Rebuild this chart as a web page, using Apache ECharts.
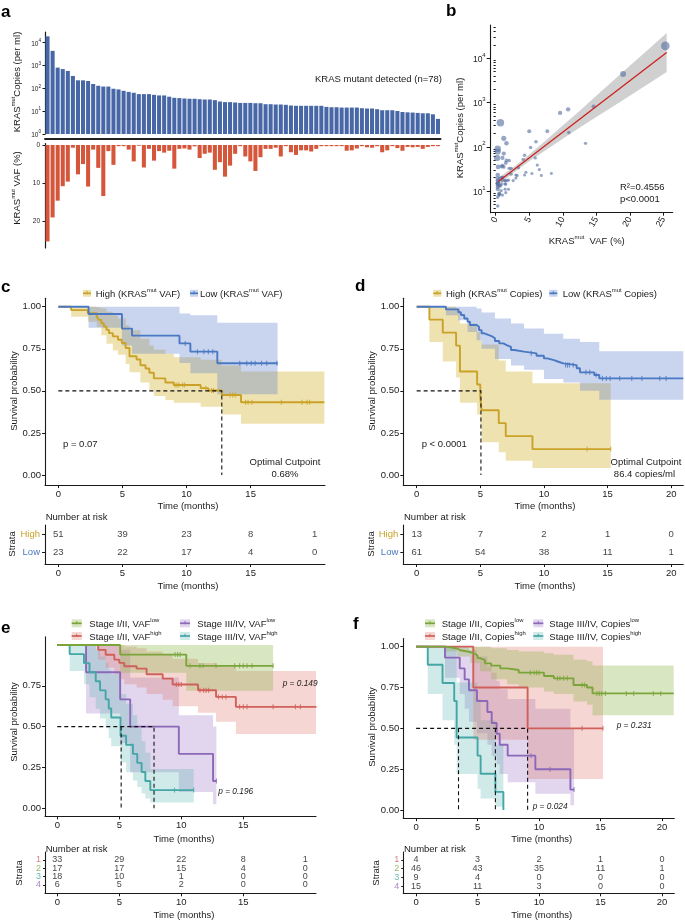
<!DOCTYPE html>
<html><head><meta charset="utf-8"><title>KRAS ctDNA figure</title>
<script src="https://cdn.jsdelivr.net/npm/echarts@6.0.0/dist/echarts.min.js"></script>
<style>html,body{margin:0;padding:0;background:#fff;}#chart{width:685px;height:922px;}</style>
</head><body><div id="chart"></div>
<script>
// ================= DATA =================
// Panel a / b : 78 patients, sorted by KRAS mutant copies
const patientRank = ['1','2','3','4','5','6','7','8','9','10','11','12','13','14','15','16','17','18','19','20','21','22','23','24','25','26','27','28','29','30','31','32','33','34','35','36','37','38','39','40','41','42','43','44','45','46','47','48','49','50','51','52','53','54','55','56','57','58','59','60','61','62','63','64','65','66','67','68','69','70','71','72','73','74','75','76','77','78'];
const copiesPerMl = [19000,4400,810,700,580,350,225,225,210,155,130,120,120,96,90,78,70,64,56,56,56,52,49,49,43,38.5,37.5,36,35,35,33.5,32.5,32.5,30.5,26.5,25,25,24,23,23,23,22.3,22.3,20.2,20.2,19.6,19.6,19,17.7,17.2,17.2,17.2,17.2,17.2,17.2,15.4,14.9,14.9,14.4,14.4,14.4,14.4,13.5,13.1,13.1,12.2,11,11,11,10.2,9.2,8.9,8.7,8.4,8.1,8.1,7.3,4.6];
const vafPercent = [25.3,19.0,14.6,10.8,9.6,0.7,7.7,5.0,10.9,1.2,6.0,13.4,1.6,5.2,0.3,0.3,1.2,4.3,0.2,5.9,1.0,4.1,1.6,2.0,1.5,6.2,1.0,0.9,1.2,0.35,3.4,2.3,2.0,6.5,4.5,8.3,5.4,2.3,0.3,3.0,4.3,6.8,3.2,1.0,1.0,0.7,3.0,0.3,1.9,2.6,1.4,1.4,1.7,1.0,0.3,0.3,0.3,0.3,0.3,1.5,1.4,0.9,0.3,0.6,0.7,0.3,1.9,1.4,0.3,0.8,1.5,0.5,0.6,0.5,1.0,0.5,0.3,0.3];
const copyTicks = [1,10,100,1000,10000];
const vafTicksA = [0,10,20];
const vafTicksB = [0,5,10,15,20,25];
const scatterCopyTicks = [10,100,1000,10000];
// regression fit
const fitVaf = [0.4,25.5];
const fitCopies = [16.5,13400];
const fitBandVaf = [0.4,1,2,3.3,5,7.5,10,12.5,15,17.5,20,22.5,25.5];
const fitBandLow = [13.5,16.3,21.6,30.8,47.3,85,151,269,468,813,1413,2483,4875];
const fitBandHigh = [20.0,23.0,29.5,41.5,66.8,141,302,646,1413,3090,6761,14622,36983];

// KM common
const survTicks = [0,0.25,0.5,0.75,1];
const survTicksE = [0,0.25,0.5,0.75];
const timeTicks15 = [0,5,10,15];
const timeTicks20 = [0,5,10,15,20];
const riskTimes = [0,5,10,15,20];
const strataNames = ['1','2','3','4'];

// Panel c (VAF)
const cHighTime = [0,1.0,2.3,3.0,3.15,3.35,3.55,3.75,3.95,4.25,4.65,4.95,5.25,5.55,6.1,6.4,6.8,7.1,7.45,8.35,9.0,11.1,11.7,12.75,14.25,20.75];
const cHighSurv = [1,0.980,0.961,0.941,0.922,0.902,0.882,0.863,0.843,0.824,0.804,0.784,0.755,0.706,0.686,0.652,0.633,0.608,0.574,0.55,0.535,0.516,0.502,0.475,0.432,0.432];
const cHighCensor = [9.1,9.25,9.4,9.7,9.85,11.5,11.95,12.1,13.4,13.6,13.8,14.6,14.8,15.1,17.4,19.0,19.4,19.6];
const cHighBandTime = [0,1.0,2.3,3.0,3.35,3.75,4.25,4.65,5.25,5.55,6.4,7.1,7.45,8.35,9.0,11.1,12.75,14.25,20.75];
const cHighBandUp = [1,1,1,0.995,0.99,0.97,0.95,0.93,0.89,0.86,0.81,0.77,0.745,0.72,0.70,0.685,0.65,0.615,0.615];
const cHighBandLo = [1,0.94,0.91,0.88,0.83,0.78,0.74,0.715,0.66,0.61,0.55,0.505,0.47,0.445,0.43,0.405,0.36,0.305,0.305];
const cLowTime = [0,2.36,4.96,5.75,9.45,10.3,12.4,17.1];
const cLowSurv = [1,0.957,0.870,0.828,0.782,0.733,0.664,0.664];
const cLowCensor = [9.9,10.85,11.35,11.7,12.05,14.15,14.7,15.05,15.35,15.85,16.25,17.05];
const cLowBandTime = [0,2.36,4.96,5.75,9.45,10.3,12.4,17.1];
const cLowBandUp = [1,1,1,1,0.96,0.95,0.905,0.905];
const cLowBandLo = [1,0.875,0.77,0.72,0.665,0.605,0.48,0.48];
const cMedian = [12.75];
const cRiskHigh = [51,39,23,8,1];
const cRiskLow = [23,22,17,4,0];

// Panel d (Copies)
const dHighTime = [0,1.0,2.05,3.1,3.4,4.75,5.0,5.1,6.45,7.0,9.1,15.25];
const dHighSurv = [1,0.923,0.846,0.769,0.615,0.538,0.462,0.385,0.308,0.231,0.154,0.154];
const dHighCensor = [13.4,15.25];
const dHighBandUp = [1,1,1,0.99,0.9,0.85,0.8,0.775,0.68,0.615,0.545,0.545];
const dHighBandLo = [1,0.79,0.675,0.58,0.43,0.36,0.29,0.195,0.135,0.085,0.042,0.042];
const dLowTime = [0,2.3,3.27,3.48,3.74,4.0,4.19,4.71,4.9,5.1,5.31,5.63,5.97,6.15,6.49,6.81,7.07,7.41,7.67,8.43,9.42,10.0,10.26,10.79,11.13,11.52,12.57,12.83,13.95,14.35,20.95];
const dLowSurv = [1,0.984,0.967,0.951,0.93,0.911,0.891,0.881,0.861,0.842,0.832,0.822,0.812,0.796,0.782,0.772,0.762,0.743,0.733,0.723,0.709,0.693,0.683,0.673,0.663,0.653,0.634,0.61,0.594,0.574,0.574];
const dLowCensor = [9.0,11.7,11.85,12.0,12.3,13.3,13.6,14.1,14.6,14.9,15.2,15.95,16.9,17.7,19.1,19.6];
const dLowBandTime = [0,2.3,3.27,4.0,4.71,5.1,6.15,7.41,8.43,10.0,11.52,12.83,14.35,20.95];
const dLowBandUp = [1,1,1,1,0.99,0.965,0.93,0.9,0.87,0.84,0.81,0.79,0.735,0.735];
const dLowBandLo = [1,0.95,0.92,0.85,0.80,0.75,0.69,0.65,0.625,0.57,0.55,0.5,0.447,0.447];
const dMedian = [5.05];
const dRiskHigh = [13,7,2,1,0];
const dRiskLow = [61,54,38,11,1];

// Panel e (stage x VAF)
const eGreenTime = [0,5.07,10.4,17.4];
const eGreenSurv = [1,0.941,0.872,0.872];
const eGreenCensor = [9.5,9.7,9.9,10.7,11.5,11.75,12.8,14.3,14.7,15.0,15.3,15.7,17.4];
const eGreenBandUp = [1,1,1,1];
const eGreenBandLo = [1,0.83,0.72,0.72];
const eRedTime = [0,3.3,3.9,4.6,5.0,5.4,6.4,7.2,8.5,9.3,11.35,12.8,14.4,20.9];
const eRedSurv = [1,0.97,0.94,0.91,0.89,0.87,0.855,0.821,0.794,0.758,0.723,0.682,0.621,0.621];
const eRedCensor = [9.6,9.8,10.0,11.5,11.8,12.0,12.2,13.0,13.3,13.6,14.7,15.0,15.3,17.4,19.2,19.6];
const eRedBandUp = [1,1,1,1,1,0.99,0.98,0.96,0.94,0.915,0.89,0.87,0.84,0.84];
const eRedBandLo = [1,0.91,0.86,0.82,0.79,0.76,0.74,0.70,0.665,0.625,0.585,0.53,0.455,0.455];
const eTealTime = [0,1.0,2.15,2.6,3.1,3.45,3.9,4.15,4.35,5.1,5.55,6.1,6.45,6.8,7.1,7.5,11.0];
const eTealSurv = [1,0.944,0.889,0.833,0.778,0.722,0.667,0.611,0.556,0.444,0.389,0.333,0.278,0.222,0.167,0.111,0.111];
const eTealCensor = [9.45,11.0];
const eTealBandUp = [1,1,1,0.995,0.97,0.93,0.89,0.85,0.82,0.70,0.64,0.57,0.49,0.41,0.34,0.24,0.24];
const eTealBandLo = [1,0.84,0.76,0.68,0.61,0.55,0.49,0.43,0.38,0.28,0.22,0.17,0.13,0.09,0.06,0.035,0.035];
const ePurpleTime = [0,2.32,5.07,5.88,9.8,12.56,12.83];
const ePurpleSurv = [1,0.833,0.667,0.5,0.333,0.167,0.167];
const ePurpleCensor = [12.83];
const ePurpleBandUp = [1,1,0.97,0.8,0.57,0.5,0.5];
const ePurpleBandLo = [1,0.58,0.4,0.22,0.1,0.025,0.025];
const eMedians = [5.15,7.8];
const eRisk = [[33,29,22,8,1],[17,17,15,4,0],[18,10,1,0,0],[6,5,2,0,0]];

// Panel f (stage x Copies)
const fGreenTime = [0,2.4,3.35,3.6,4.4,4.8,5.0,5.2,5.6,6.1,6.85,7.4,8.35,10.4,11.2,12.8,13.9,14.35,20.95];
const fGreenSurv = [1,0.989,0.978,0.967,0.956,0.945,0.93,0.918,0.898,0.884,0.867,0.857,0.841,0.82,0.806,0.765,0.75,0.714,0.714];
const fGreenCensor = [9.3,9.6,9.8,10.0,11.5,11.7,12.0,12.3,13.5,13.7,14.7,14.9,15.1,15.4,17.1,17.7,19.3,19.9];
const fGreenBandTime = [0,2.4,3.35,4.4,5.2,6.1,7.4,8.35,10.4,11.2,12.8,13.9,14.35,20.95];
const fGreenBandUp = [1,1,1,1,1,0.99,0.98,0.97,0.96,0.95,0.92,0.91,0.884,0.884];
const fGreenBandLo = [1,0.97,0.94,0.9,0.85,0.8,0.77,0.75,0.725,0.71,0.665,0.645,0.58,0.58];
const fRedTime = [0,4.65,9.07,15.2];
const fRedSurv = [1,0.75,0.5,0.5];
const fRedCensor = [13.5,15.2];
const fRedBandUp = [1,1,1,1];
const fRedBandLo = [1,0.43,0.19,0.19];
const fTealTime = [0,0.95,2.15,3.1,3.3,5.0,5.25,6.45,7.1];
const fTealSurv = [1,0.889,0.778,0.667,0.444,0.333,0.222,0.111,0];
const fTealCensor = [];
const fTealBandUp = [1,1,1,1,0.78,0.68,0.55,0.4,0.4];
const fTealBandLo = [1,0.71,0.55,0.4,0.22,0.13,0.07,0.02,0.02];
const fPurpleTime = [0,2.35,3.55,3.95,4.3,4.95,5.8,6.15,6.55,6.8,7.45,9.7,12.55,12.85];
const fPurpleSurv = [1,0.933,0.867,0.8,0.733,0.667,0.6,0.533,0.467,0.4,0.333,0.25,0.125,0.125];
const fPurpleCensor = [9.35,10.9,12.85];
const fPurpleBandUp = [1,1,1,1,0.98,0.94,0.88,0.84,0.79,0.74,0.68,0.62,0.5,0.5];
const fPurpleBandLo = [1,0.81,0.71,0.62,0.54,0.47,0.4,0.33,0.28,0.22,0.17,0.1,0.03,0.03];
const fMedians = [3.45,6.45,9.07];
const fRisk = [[4,3,2,1,0],[46,43,35,11,1],[9,4,0,0,0],[15,11,3,0,0]];

// ================= STYLE =================
const FONT = '"Liberation Sans", Arial, Helvetica, sans-serif';
const INK = '#1a1a1a';
const FS = 9.5;
const GOLD = '#C9A227', GOLD_BAND = 'rgba(212,180,50,0.38)';
const BLUE = '#4A78C2', BLUE_BAND = 'rgba(90,125,205,0.33)';
const GREEN = '#7BA53B', GREEN_BAND = 'rgba(140,180,70,0.33)';
const RED = '#D0605A', RED_BAND = 'rgba(222,120,105,0.30)';
const TEAL = '#45A6A6', TEAL_BAND = 'rgba(80,175,175,0.27)';
const PURPLE = '#8C68B8', PURPLE_BAND = 'rgba(155,120,200,0.30)';
const STRATA_COLORS = [RED, GREEN, TEAL, PURPLE];
const BAR_BLUE = '#4767A6', BAR_RED = '#D5563B';

const grid = [], xAxis = [], yAxis = [], series = [], gfx = [];
function addGrid(l, t, w, h) { grid.push({left: l, top: t, width: w, height: h, containLabel: false, outerBoundsMode: 'none'}); return grid.length - 1; }
function valAxis(gi, min, max, ticks, fmt, fs) {
  return {type: 'value', gridIndex: gi, min: min, max: max, splitLine: {show: false},
    axisLine: {show: true, onZero: false, lineStyle: {color: INK, width: 1.1}},
    axisTick: {show: true, length: 3, customValues: ticks, lineStyle: {color: INK, width: 1}},
    axisLabel: {show: true, customValues: ticks, formatter: fmt, fontFamily: FONT, fontSize: fs || FS, color: '#222', margin: 4,
      showMinLabel: true, showMaxLabel: true, hideOverlap: false}};
}
function pushAxes(x, y) { xAxis.push(x); yAxis.push(y); return {xi: xAxis.length - 1, yi: yAxis.length - 1}; }
function stepAt(T, S, t) { let v = S[0]; for (let i = 0; i < T.length; i++) { if (T[i] <= t + 1e-9) v = S[i]; } return v; }

function stepBand(ax, T, lo, hi, fill) {
  series.push({type: 'custom', xAxisIndex: ax.xi, yAxisIndex: ax.yi, silent: true, z: 1, clip: true,
    data: [[T[0], hi[0]]],
    renderItem: function (params, api) {
      const up = [], dn = [];
      for (let i = 0; i < T.length - 1; i++) {
        up.push(api.coord([T[i], hi[i]])); up.push(api.coord([T[i + 1], hi[i]]));
        dn.push(api.coord([T[i], lo[i]])); dn.push(api.coord([T[i + 1], lo[i]]));
      }
      dn.reverse();
      return {type: 'polygon', shape: {points: up.concat(dn)}, style: {fill: fill}};
    }});
}
function kmCurve(ax, T, S, C, color) {
  series.push({type: 'line', xAxisIndex: ax.xi, yAxisIndex: ax.yi, step: 'end', silent: true, z: 3,
    data: T.map((t, i) => [t, S[i]]), showSymbol: false, symbol: 'none',
    lineStyle: {color: color, width: 1.9}});
  if (C.length) series.push({type: 'scatter', xAxisIndex: ax.xi, yAxisIndex: ax.yi, silent: true, z: 4,
    data: C.map(t => [t, stepAt(T, S, t)]), symbol: 'rect', symbolSize: [1.1, 5], itemStyle: {color: color}});
}
function dashed(ax, pts) {
  series.push({type: 'line', xAxisIndex: ax.xi, yAxisIndex: ax.yi, silent: true, z: 5, data: pts, showSymbol: false, symbol: 'none',
    lineStyle: {color: '#111', width: 1.1, type: [4, 3]}});
}
function riskNumbers(ax, times, rows, fs) {
  const data = [];
  rows.forEach((r, ri) => r.forEach((n, j) => data.push([times[j], ri + 1, n])));
  series.push({type: 'scatter', xAxisIndex: ax.xi, yAxisIndex: ax.yi, silent: true, z: 5, symbolSize: 1,
    itemStyle: {color: 'rgba(0,0,0,0)'}, data: data,
    label: {show: true, position: 'inside', formatter: p => String(p.value[2]), fontFamily: FONT, fontSize: fs || FS, color: '#111'}});
}
function supMarkup(str) {
  return str.split(/(\[[^\]]*\])/).filter(s => s.length).map(s => s[0] === '[' ? '{s|' + s.slice(1, -1) + '}' : '{n|' + s + '}').join('');
}
function label(x, y, str, o) {
  o = o || {}; const size = o.size || FS; const col = o.color || INK;
  gfx.push({type: 'text', x: x, y: y, rotation: o.rot || 0, silent: true, z: 100,
    style: {text: supMarkup(str), fill: col, align: o.align || 'left', verticalAlign: 'middle', fontSize: size, fontFamily: FONT,
      rich: {
        n: {fontSize: size, fontFamily: FONT, fill: col, fontStyle: o.italic ? 'italic' : 'normal', fontWeight: o.bold ? 'bold' : 'normal', lineHeight: size * 1.25, verticalAlign: 'bottom'},
        s: {fontSize: size * 0.62, fontFamily: FONT, fill: col, lineHeight: size * 0.7, verticalAlign: 'top'}
      }}});
}
function legendKey(x, y, w, h, line, fill) {
  gfx.push({type: 'rect', silent: true, z: 100, shape: {x: x, y: y - h / 2, width: w, height: h}, style: {fill: fill}});
  gfx.push({type: 'line', silent: true, z: 101, shape: {x1: x, y1: y, x2: x + w, y2: y}, style: {stroke: line, lineWidth: 1.7}});
  gfx.push({type: 'line', silent: true, z: 101, shape: {x1: x + w / 2, y1: y - 2.2, x2: x + w / 2, y2: y + 1}, style: {stroke: line, lineWidth: 1}});
}
const fmt2 = v => v.toFixed(2);
const fmtInt = v => String(v);
const logRich = (b, s) => ({b: {fontSize: b, fontFamily: FONT, color: '#222', lineHeight: b * 1.4, verticalAlign: 'bottom'}, s: {fontSize: s, fontFamily: FONT, color: '#222', lineHeight: s * 1.1, verticalAlign: 'top'}});
const logFmt = v => '{b|10}{s|' + Math.round(Math.log10(v)) + '}';

// ================= PANEL a =================
{
  const gTop = addGrid(45, 32, 395.5, 102);
  const x = {type: 'category', gridIndex: gTop, data: patientRank, offset: 5, axisTick: {show: false}, axisLabel: {show: false},
    axisLine: {show: true, lineStyle: {color: '#222', width: 2}}, splitLine: {show: false}};
  const y = {type: 'log', logBase: 10, gridIndex: gTop, min: 1, max: 29500, splitLine: {show: false},
    axisLine: {show: true, onZero: false, lineStyle: {color: INK, width: 1.2}},
    axisTick: {show: true, length: 2.5, customValues: copyTicks, lineStyle: {color: INK}},
    axisLabel: {customValues: copyTicks, formatter: logFmt, rich: logRich(6.5, 4.6), margin: 4, showMinLabel: true, showMaxLabel: true}};
  const ax = pushAxes(x, y);
  series.push({type: 'bar', xAxisIndex: ax.xi, yAxisIndex: ax.yi, data: copiesPerMl, barCategoryGap: '20%', silent: true,
    itemStyle: {color: BAR_BLUE}});
  const gBot = addGrid(45, 143.5, 395.5, 104.4);
  const x2 = {type: 'category', gridIndex: gBot, data: patientRank, show: false};
  const y2 = valAxis(gBot, -0.4, 27, vafTicksA, fmtInt, 6.5);
  y2.inverse = true; y2.axisLine.lineStyle.width = 1.2; y2.axisTick.length = 2.5; y2.axisLabel.margin = 5;
  const ax2 = pushAxes(x2, y2);
  series.push({type: 'bar', xAxisIndex: ax2.xi, yAxisIndex: ax2.yi, data: vafPercent, barCategoryGap: '20%', silent: true,
    itemStyle: {color: BAR_RED}});
  label(1, 10, 'a', {size: 17, bold: true, color: '#000'});
  label(442, 78.5, 'KRAS mutant detected (n=78)', {align: 'right'});
  label(16.7, 82, 'KRAS[mut]Copies (per ml)', {rot: Math.PI / 2, align: 'center'});
  label(16.7, 188, 'KRAS[mut] VAF (%)', {rot: Math.PI / 2, align: 'center'});
}

// ================= PANEL b =================
{
  const gb = addGrid(490.7, 25, 182, 187.7);
  const x = valAxis(gb, -0.75, 26.4, vafTicksB, fmtInt, 9);
  x.axisLabel.rotate = 60; x.axisLabel.margin = 5;
  const y = {type: 'log', logBase: 10, gridIndex: gb, min: 3.24, max: 56300, splitLine: {show: false},
    axisLine: {show: true, onZero: false, lineStyle: {color: INK, width: 1.1}},
    axisTick: {show: true, length: 4, customValues: scatterCopyTicks, lineStyle: {color: INK}},
    axisLabel: {customValues: scatterCopyTicks, formatter: logFmt, rich: logRich(8.5, 6), margin: 5, showMinLabel: true, showMaxLabel: true}};
  const ax = pushAxes(x, y);
  const minor = [];
  for (let k = 0; k < 5; k++) for (let m = 2; m <= 9; m++) { const v = m * Math.pow(10, k); if (v > 3.24 && v < 56300) minor.push(v); }
  yAxis.push({type: 'log', logBase: 10, gridIndex: gb, min: 3.24, max: 56300, position: 'left', splitLine: {show: false},
    axisLine: {show: false}, axisLabel: {show: false},
    axisTick: {show: true, length: 2.2, customValues: minor, lineStyle: {color: INK}}});
  series.push({type: 'custom', xAxisIndex: ax.xi, yAxisIndex: ax.yi, silent: true, z: 1, data: [[fitBandVaf[0], fitBandLow[0]]],
    renderItem: function (params, api) {
      const up = fitBandVaf.map((v, i) => api.coord([v, fitBandHigh[i]]));
      const dn = fitBandVaf.map((v, i) => api.coord([v, fitBandLow[i]])).reverse();
      return {type: 'polygon', shape: {points: up.concat(dn)}, style: {fill: 'rgba(150,150,150,0.45)'}};
    }});
  series.push({type: 'scatter', xAxisIndex: ax.xi, yAxisIndex: ax.yi, silent: true, z: 2,
    data: vafPercent.map((v, i) => [v, copiesPerMl[i]]),
    symbolSize: d => Math.min(9.5, 2.6 + 0.22 * Math.sqrt(d[1] / d[0])),
    itemStyle: {color: 'rgba(88,112,162,0.78)'}});
  series.push({type: 'line', xAxisIndex: ax.xi, yAxisIndex: ax.yi, silent: true, z: 3, showSymbol: false, symbol: 'none',
    data: fitVaf.map((v, i) => [v, fitCopies[i]]), lineStyle: {color: '#CC1F1F', width: 1.3}});
  label(446, 9, 'b', {size: 17, bold: true, color: '#000'});
  label(459.5, 128, 'KRAS[mut]Copies (per ml)', {rot: Math.PI / 2, align: 'center'});
  label(586.7, 240, 'KRAS[mut]  VAF (%)', {align: 'center'});
  label(620, 186, 'R²=0.4556', {});
  label(620, 198.5, 'p<0.0001', {});
}

// ================= PANEL c / d =================
function kmTwoPanel(L, xmin, xmax, xticks, tickR, grp, texts) {
  const g = addGrid(L, 298.3, 280, 186.8);
  const ax = pushAxes(valAxis(g, xmin, xmax, xticks, fmtInt), valAxis(g, -0.06, 1.05, survTicks, fmt2));
  grp.forEach(o => stepBand(ax, o.bt, o.blo, o.bup, o.band));
  grp.forEach(o => kmCurve(ax, o.t, o.s, o.c, o.color));
  dashed(ax, [[0, 0.5], [texts.median, 0.5], [texts.median, 0]]);
  const gr = addGrid(L, 525, 280, 39);
  const yr = valAxis(gr, 0.483, 2.65, [1, 2], v => v === 1 ? '{h|High}' : '{l|Low}');
  yr.inverse = true; yr.axisLabel.margin = 5;
  yr.axisLabel.rich = {h: {color: GOLD, fontSize: FS, fontFamily: FONT}, l: {color: BLUE, fontSize: FS, fontFamily: FONT}};
  const axr = pushAxes(valAxis(gr, xmin, xmax, tickR, fmtInt), yr);
  riskNumbers(axr, riskTimes, [grp[0].risk, grp[1].risk]);
}
kmTwoPanel(45, -1.04, 20.8, timeTicks15, timeTicks15, [
  {t: cHighTime, s: cHighSurv, c: cHighCensor, bt: cHighBandTime, bup: cHighBandUp, blo: cHighBandLo, color: GOLD, band: GOLD_BAND, risk: cRiskHigh},
  {t: cLowTime, s: cLowSurv, c: cLowCensor, bt: cLowBandTime, bup: cLowBandUp, blo: cLowBandLo, color: BLUE, band: BLUE_BAND, risk: cRiskLow}
], {median: cMedian[0]});
kmTwoPanel(403.3, -1.05, 20.95, timeTicks20, timeTicks20, [
  {t: dHighTime, s: dHighSurv, c: dHighCensor, bt: dHighTime, bup: dHighBandUp, blo: dHighBandLo, color: GOLD, band: GOLD_BAND, risk: dRiskHigh},
  {t: dLowTime, s: dLowSurv, c: dLowCensor, bt: dLowBandTime, bup: dLowBandUp, blo: dLowBandLo, color: BLUE, band: BLUE_BAND, risk: dRiskLow}
], {median: dMedian[0]});

// texts c
label(1, 285, 'c', {size: 17, bold: true, color: '#000'});
legendKey(83, 293.3, 8, 7, GOLD, GOLD_BAND); label(95.7, 293.3, 'High (KRAS[mut] VAF)');
legendKey(190, 293.3, 8, 7, BLUE, BLUE_BAND); label(200, 293.3, 'Low (KRAS[mut] VAF)');
label(13.3, 391, 'Survival probability', {rot: Math.PI / 2, align: 'center'});
label(63, 443, 'p = 0.07');
label(285, 461.7, 'Optimal Cutpoint', {align: 'center'});
label(285, 473.3, '0.68%', {align: 'center'});
label(188, 505, 'Time (months)', {align: 'center'});
label(45.7, 516, 'Number at risk');
label(11.7, 544, 'Strata', {rot: Math.PI / 2, align: 'center'});
label(188, 585, 'Time (months)', {align: 'center'});
// texts d
label(355, 284, 'd', {size: 17, bold: true, color: '#000'});
legendKey(433.3, 293.3, 8, 7, GOLD, GOLD_BAND); label(446, 293.3, 'High (KRAS[mut] Copies)');
legendKey(549.3, 293.3, 8, 7, BLUE, BLUE_BAND); label(562.7, 293.3, 'Low (KRAS[mut] Copies)');
label(371.7, 391, 'Survival probability', {rot: Math.PI / 2, align: 'center'});
label(421.7, 443.3, 'p < 0.0001');
label(646, 461.7, 'Optimal Cutpoint', {align: 'center'});
label(644.5, 473.3, '86.4 copies/ml', {align: 'center'});
label(545, 505, 'Time (months)', {align: 'center'});
label(404, 516, 'Number at risk');
label(370, 544, 'Strata', {rot: Math.PI / 2, align: 'center'});
label(545, 585, 'Time (months)', {align: 'center'});

// ================= PANEL e / f =================
function kmFourPanel(L, top, h, xmin, xmax, xticks, yticks, grp, medians, riskRows, rmin, rmax) {
  const g = addGrid(L, top, 271, h);
  const ax = pushAxes(valAxis(g, xmin, xmax, xticks, fmtInt), valAxis(g, -0.05, 1.05, yticks, fmt2));
  grp.forEach(o => stepBand(ax, o.bt || o.t, o.blo, o.bup, o.band));
  grp.forEach(o => kmCurve(ax, o.t, o.s, o.c, o.color));
  const last = medians[medians.length - 1];
  dashed(ax, [[0, 0.5], [last, 0.5], [last, 0]]);
  medians.slice(0, -1).forEach(m => dashed(ax, [[m, 0.5], [m, 0]]));
  const gr = addGrid(L, 852, 271, 41.3);
  const yr = valAxis(gr, rmin, rmax, [1, 2, 3, 4], fmtInt, 9);
  yr.inverse = true; yr.axisTick.length = 2; yr.axisLabel.show = false;
  const axr = pushAxes(valAxis(gr, xmin, xmax, xticks, fmtInt), yr);
  // strata names (colored) placed at the left edge of the risk table rows
  series.push({type: 'scatter', xAxisIndex: axr.xi, yAxisIndex: axr.yi, silent: true, z: 6, symbolSize: 1, clip: false,
    itemStyle: {color: 'rgba(0,0,0,0)'},
    data: strataNames.map((s, i) => ({value: [xmin, i + 1, s], label: {color: STRATA_COLORS[i]}})),
    label: {show: true, position: 'left', distance: 3.5, formatter: p => p.value[2], fontFamily: FONT, fontSize: 9}});
  riskNumbers(axr, riskTimes, riskRows, 9);
}
kmFourPanel(45, 636.8, 179.6, -0.99, 20.86, timeTicks15, survTicksE, [
  {t: ePurpleTime, s: ePurpleSurv, c: ePurpleCensor, bup: ePurpleBandUp, blo: ePurpleBandLo, color: PURPLE, band: PURPLE_BAND},
  {t: eTealTime, s: eTealSurv, c: eTealCensor, bup: eTealBandUp, blo: eTealBandLo, color: TEAL, band: TEAL_BAND},
  {t: eRedTime, s: eRedSurv, c: eRedCensor, bup: eRedBandUp, blo: eRedBandLo, color: RED, band: RED_BAND},
  {t: eGreenTime, s: eGreenSurv, c: eGreenCensor, bup: eGreenBandUp, blo: eGreenBandLo, color: GREEN, band: GREEN_BAND}
], eMedians, eRisk, 0.04, 5.0);
kmFourPanel(403.3, 638.5, 179.7, -1.04, 21.0, timeTicks20, survTicks, [
  {t: fPurpleTime, s: fPurpleSurv, c: fPurpleCensor, bup: fPurpleBandUp, blo: fPurpleBandLo, color: PURPLE, band: PURPLE_BAND},
  {t: fTealTime, s: fTealSurv, c: fTealCensor, bup: fTealBandUp, blo: fTealBandLo, color: TEAL, band: TEAL_BAND},
  {t: fRedTime, s: fRedSurv, c: fRedCensor, bup: fRedBandUp, blo: fRedBandLo, color: RED, band: RED_BAND},
  {t: fGreenTime, s: fGreenSurv, c: fGreenCensor, bt: fGreenBandTime, bup: fGreenBandUp, blo: fGreenBandLo, color: GREEN, band: GREEN_BAND}
], fMedians, fRisk, 0.077, 4.84);
// texts e
label(1, 625.7, 'e', {size: 17, bold: true, color: '#000'});
legendKey(71.7, 623.3, 10, 8, GREEN, GREEN_BAND); label(89.3, 623.3, 'Stage I/II, VAF[low]');
legendKey(71.7, 636, 10, 8, RED, RED_BAND); label(89.3, 636, 'Stage I/II, VAF[high]');
legendKey(180, 623.3, 10, 8, PURPLE, PURPLE_BAND); label(197.3, 623.3, 'Stage III/IV, VAF[low]');
legendKey(180, 636, 10, 8, TEAL, TEAL_BAND); label(197.3, 636, 'Stage III/IV, VAF[high]');
label(13.3, 722, 'Survival probability', {rot: Math.PI / 2, align: 'center'});
label(282.7, 682.7, 'p = 0.149', {italic: true, size: 8.3});
label(218.3, 790.7, 'p = 0.196', {italic: true, size: 8.3});
label(184, 838.3, 'Time (months)', {align: 'center'});
label(45.7, 848.3, 'Number at risk');
label(18.3, 873, 'Strata', {rot: Math.PI / 2, align: 'center'});
label(184, 914, 'Time (months)', {align: 'center'});
// texts f
label(353, 622.5, 'f', {size: 17, bold: true, color: '#000'});
legendKey(425, 623.3, 10, 8, GREEN, GREEN_BAND); label(441.7, 623.3, 'Stage I/II, Copies[low]');
legendKey(425, 636, 10, 8, RED, RED_BAND); label(441.7, 636, 'Stage I/II, Copies[high]');
legendKey(533.3, 623.3, 10, 8, PURPLE, PURPLE_BAND); label(549.3, 623.3, 'Stage III/IV, Copies[low]');
legendKey(533.3, 636, 10, 8, TEAL, TEAL_BAND); label(549.3, 636, 'Stage III/IV, Copies[high]');
label(371.7, 727, 'Survival probability', {rot: Math.PI / 2, align: 'center'});
label(616.7, 725, 'p = 0.231', {italic: true, size: 8.3});
label(532.7, 805.7, 'p = 0.024', {italic: true, size: 8.3});
label(541.7, 838.3, 'Time (months)', {align: 'center'});
label(404, 848.3, 'Number at risk');
label(375, 873, 'Strata', {rot: Math.PI / 2, align: 'center'});
label(541.7, 914, 'Time (months)', {align: 'center'});

const chart = echarts.init(document.getElementById('chart'), null, {renderer: 'canvas', width: 685, height: 922});
chart.setOption({animation: false, backgroundColor: '#fff', textStyle: {fontFamily: FONT},
  grid: grid, xAxis: xAxis, yAxis: yAxis, series: series, graphic: {elements: gfx}});
</script></body></html>
